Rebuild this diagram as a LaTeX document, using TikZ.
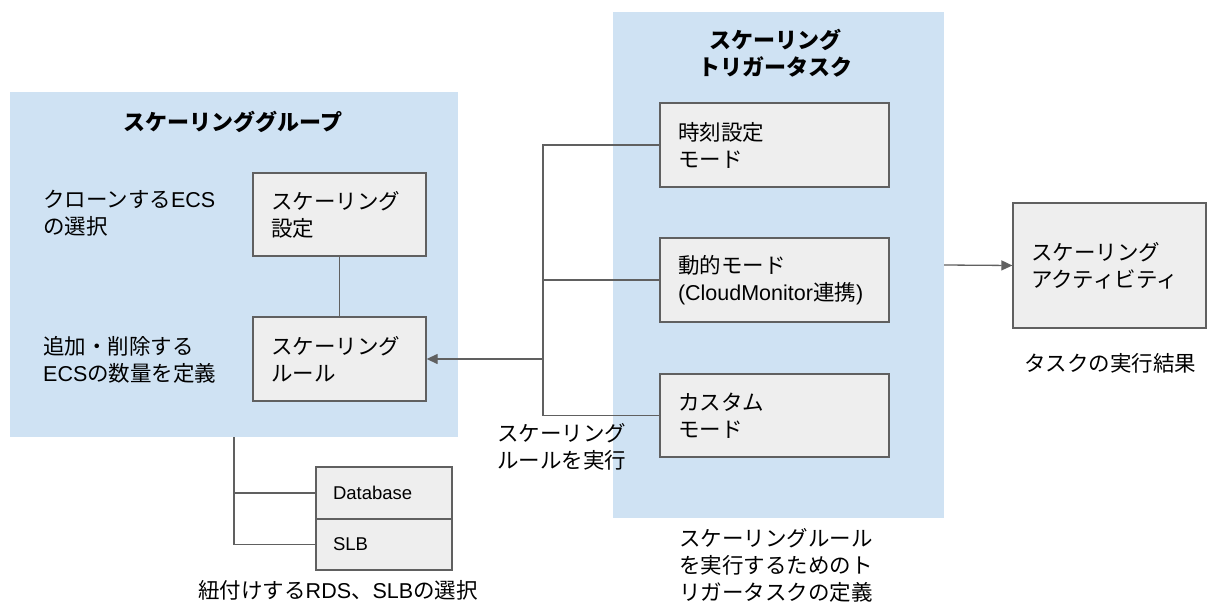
\documentclass[tikz,border=0pt]{standalone}
\usepackage{fontspec}
\setmainfont{Noto Sans CJK JP}
\newfontfamily\lat{Liberation Sans}
\usetikzlibrary{arrows.meta}
\definecolor{grpblue}{HTML}{CFE2F3}
\definecolor{boxgray}{HTML}{EEEEEE}
\definecolor{linegray}{HTML}{606060}
\begin{document}
\begin{tikzpicture}[x=1pt,y=-1pt,
  group/.style={fill=grpblue, draw=none, inner sep=0pt},
  box/.style={draw=linegray, line width=1.3pt, fill=boxgray, inner xsep=18pt, inner ysep=0pt, align=left, font=\fontsize{21.5}{27}\selectfont},
  small/.style={draw=linegray, line width=1.3pt, fill=boxgray, inner xsep=17pt, inner ysep=0pt, align=left, font=\fontsize{18.5}{21}\selectfont\lat},
  lbl/.style={inner sep=0pt, align=left, font=\fontsize{21.5}{27}\selectfont},
  ttl/.style={inner sep=0pt, align=center, font=\fontsize{22}{27}\selectfont\bfseries},
  conn/.style={draw=linegray, line width=1.3pt},
  arr/.style={conn, -{Triangle[length=11pt,width=10pt]}}
]
\useasboundingbox (0,0) rectangle (1209,604);
% containers
\node[group, minimum width=448pt, minimum height=345pt] (grp) at (234,264.5) {};
\node[group, minimum width=331pt, minimum height=506pt] (trig) at (778.5,265) {};
% titles
\node[ttl] (grpttl) at (233,122) {スケーリンググループ};
\node[ttl] (trigttl) at (775,53) {スケーリング\\トリガータスク};
% group boxes
\node[box, minimum width=173pt, minimum height=83pt, text width=137pt] (cfg) at (339.5,214.5) {スケーリング\\設定};
\node[box, minimum width=173pt, minimum height=84pt, text width=137pt] (rule) at (339.5,359) {スケーリング\\ルール};
% trigger boxes
\node[box, minimum width=229pt, minimum height=84pt, text width=193pt] (time) at (774.5,145) {時刻設定\\モード};
\node[box, minimum width=229pt, minimum height=84pt, text width=193pt] (dyn) at (774.5,280) {動的モード\\{\lat(CloudMonitor}連携{\lat)}};
\node[box, minimum width=229pt, minimum height=83pt, text width=193pt] (cust) at (774.5,415.5) {カスタム\\モード};
% activity
\node[box, minimum width=193pt, minimum height=125pt, text width=157pt] (act) at (1109.5,265.5) {スケーリング\\アクティビティ};
% db / slb
\node[small, minimum width=136pt, minimum height=52pt, text width=102pt] (db) at (384,493) {Database};
\node[small, minimum width=136pt, minimum height=51pt, text width=102pt] (slb) at (384,544.5) {SLB};
% labels
\node[lbl, anchor=west] (clone) at (43,213.5) {クローンする{\lat ECS}\\の選択};
\node[lbl, anchor=west] (adddel) at (43,360) {追加・削除する\\{\lat ECS}の数量を定義};
\node[lbl, anchor=west] (exec) at (497,446.5) {スケーリング\\ルールを実行};
\node[lbl, anchor=west] (trigdef) at (679,565) {スケーリングルール\\を実行するためのト\\リガータスクの定義};
\node[lbl] (bind) at (338,590) {紐付けする{\lat RDS}、{\lat SLB}の選択};
\node[lbl] (result) at (1110,363) {タスクの実行結果};
% connectors
\coordinate (J) at (543,359);
\draw[conn] (cfg.south) -- (rule.north);
\draw[conn] (time.west) -- (time.west -| J) -- (cust.west -| J) -- (cust.west);
\draw[conn] (dyn.west) -- (dyn.west -| J);
\draw[arr] (J) -- (rule.east);
\draw[arr] (trig.east) -- (act.west);
\draw[conn] (grp.south) -- (grp.south |- slb.west) -- (slb.west);
\draw[conn] (grp.south |- db.west) -- (db.west);
\end{tikzpicture}
\end{document}
